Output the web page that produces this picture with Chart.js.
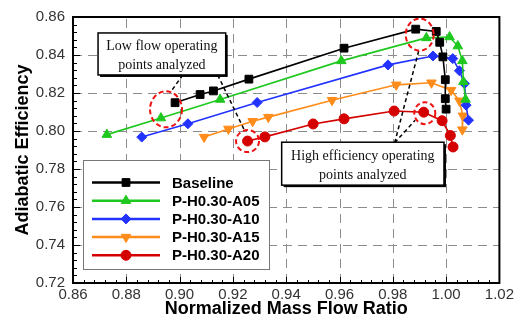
<!DOCTYPE html>
<html><head><meta charset="utf-8">
<script src="https://cdn.jsdelivr.net/npm/chart.js@4.4.0/dist/chart.umd.min.js"></script>
<style>html,body{margin:0;padding:0;background:#fff}#wrap{width:517px;height:322px}</style>
</head><body><div id="wrap"><canvas id="c" width="517" height="322"></canvas></div>
<script>
// ---- data ----
const seriesNames = ['Baseline', 'P-H0.30-A05', 'P-H0.30-A10', 'P-H0.30-A15', 'P-H0.30-A20'];
const baselineX = [0.8983, 0.9077, 0.9127, 0.9260, 0.9617, 0.9886, 0.9963, 0.9976, 0.9988, 0.9997, 0.9997, 1.0000];
const baselineY = [0.8149, 0.8192, 0.8211, 0.8273, 0.8436, 0.8536, 0.8524, 0.8467, 0.8390, 0.8270, 0.8170, 0.8115];
const a05X = [0.8727, 0.8930, 0.9152, 0.9607, 0.9926, 1.0013, 1.0044, 1.0061, 1.0065, 1.0073];
const a05Y = [0.7981, 0.8068, 0.8166, 0.8369, 0.8490, 0.8495, 0.8447, 0.8369, 0.8259, 0.8166];
const a10X = [0.8858, 0.9031, 0.9291, 0.9782, 0.9951, 1.0025, 1.0050, 1.0069, 1.0075, 1.0084];
const a10Y = [0.7968, 0.8038, 0.8150, 0.8348, 0.8395, 0.8381, 0.8317, 0.8249, 0.8136, 0.8057];
const a15X = [0.9092, 0.9183, 0.9274, 0.9333, 0.9572, 0.9813, 0.9945, 1.0019, 1.0050, 1.0063, 1.0061];
const a15Y = [0.7968, 0.8011, 0.8051, 0.8073, 0.8162, 0.8243, 0.8254, 0.8215, 0.8159, 0.8080, 0.8007];
const a20X = [0.9255, 0.9320, 0.9501, 0.9617, 0.9805, 0.9916, 0.9985, 1.0016, 1.0026];
const a20Y = [0.7947, 0.7969, 0.8037, 0.8064, 0.8105, 0.8099, 0.8054, 0.7976, 0.7916];
const xTickLabels = ['0.86','0.88','0.90','0.92','0.94','0.96','0.98','1.00','1.02'];
const yTickLabels = ['0.72','0.74','0.76','0.78','0.80','0.82','0.84','0.86'];
const xTitle = 'Normalized Mass Flow Ratio';
const yTitle = 'Adiabatic Efficiency';
const noteLow = ['Low flow operating', 'points analyzed'];
const noteHigh = ['High efficiency operating', 'points analyzed'];

// ---- styles ----
const colors = ['#000000', '#1ec81e', '#2233ff', '#ff8c1a', '#d40000'];
const styles = ['rect', 'triangle', 'rectRot', 'triangle', 'circle'];
const rotations = [0, 0, 0, 180, 0];
const radii = [5.5, 5.5, 5, 5.5, 5];

const xs = [baselineX, a05X, a10X, a15X, a20X];
const ys = [baselineY, a05Y, a10Y, a15Y, a20Y];
const datasets = seriesNames.map((n, i) => ({
  label: n,
  data: xs[i].map((v, k) => ({x: v, y: ys[i][k]})),
  borderColor: colors[i], backgroundColor: colors[i],
  pointBackgroundColor: colors[i], pointBorderColor: colors[i],
  pointStyle: styles[i], pointRotation: rotations[i], pointRadius: radii[i],
  pointBorderWidth: 1, borderWidth: 1.6, tension: 0, fill: false
}));

function marker(ctx, style, rot, r, x, y, col) {
  ctx.save(); ctx.fillStyle = col; ctx.strokeStyle = col; ctx.lineWidth = 1;
  ctx.translate(x, y); ctx.rotate(rot * Math.PI / 180); ctx.beginPath();
  if (style === 'rect') { const s = r * Math.SQRT1_2; ctx.rect(-s, -s, 2 * s, 2 * s); }
  else if (style === 'rectRot') { ctx.moveTo(0, -r); ctx.lineTo(r, 0); ctx.lineTo(0, r); ctx.lineTo(-r, 0); ctx.closePath(); }
  else if (style === 'triangle') { for (let k = 0; k < 3; k++) { const a = -Math.PI / 2 + k * 2 * Math.PI / 3; k ? ctx.lineTo(r * Math.cos(a), r * Math.sin(a)) : ctx.moveTo(r * Math.cos(a), r * Math.sin(a)); } ctx.closePath(); }
  else { ctx.arc(0, 0, r, 0, Math.PI * 2); }
  ctx.fill(); ctx.stroke(); ctx.restore();
}

const gridPlugin = {
  id: 'dashGrid',
  beforeDatasetsDraw(chart) {
    const {ctx, chartArea: a, scales: {x, y}} = chart;
    ctx.save();
    ctx.strokeStyle = '#8c8c8c'; ctx.lineWidth = 1; ctx.setLineDash([9, 6]);
    x.ticks.forEach(t => {
      const px = Math.round(x.getPixelForValue(t.value)) + 0.5;
      if (px <= a.left + 2 || px >= a.right - 2) return;
      ctx.beginPath(); ctx.moveTo(px, a.bottom); ctx.lineTo(px, a.top); ctx.stroke();
    });
    y.ticks.forEach(t => {
      const py = Math.round(y.getPixelForValue(t.value)) + 0.5;
      if (py <= a.top + 2 || py >= a.bottom - 2) return;
      ctx.beginPath(); ctx.moveTo(a.left, py); ctx.lineTo(a.right, py); ctx.stroke();
    });
    ctx.restore();
  }
};

const decor = {
  id: 'decor',
  afterDatasetsDraw(chart) {
    const {ctx, chartArea: a, scales: {x, y}} = chart;
    const X = v => x.getPixelForValue(v), Y = v => y.getPixelForValue(v);
    ctx.save();
    // inward ticks
    ctx.strokeStyle = '#000'; ctx.lineWidth = 1;
    for (let i = 0; i <= 40; i++) {
      const px = Math.round(X(0.86 + i * 0.004)) + 0.5, L = i % 5 === 0 ? 6 : 3;
      ctx.beginPath(); ctx.moveTo(px, a.bottom); ctx.lineTo(px, a.bottom - L); ctx.stroke();
    }
    for (let i = 0; i <= 35; i++) {
      const py = Math.round(Y(0.72 + i * 0.004)) + 0.5, L = i % 5 === 0 ? 7 : 4;
      ctx.beginPath(); ctx.moveTo(a.left, py); ctx.lineTo(a.left + L, py); ctx.stroke();
    }
    // frame
    ctx.lineWidth = 2; ctx.strokeRect(a.left, a.top, a.right - a.left, a.bottom - a.top);

    // dashed leader lines
    ctx.setLineDash([4, 3]); ctx.lineWidth = 1.5; ctx.strokeStyle = '#000';
    const seg = (x1, y1, x2, y2) => { ctx.beginPath(); ctx.moveTo(X(x1), Y(y1)); ctx.lineTo(X(x2), Y(y2)); ctx.stroke(); };
    seg(0.9012, 0.8295, 0.8966, 0.8205);
    seg(0.9143, 0.8295, 0.9245, 0.7999);
    seg(0.9807, 0.7938, 0.9897, 0.8421);
    seg(0.9807, 0.7938, 0.9884, 0.8057);

    // red dashed circles
    ctx.strokeStyle = '#ee1111'; ctx.lineWidth = 2; ctx.setLineDash([5, 3]);
    const ell = (cx, cy, rx, ry) => { ctx.beginPath(); ctx.ellipse(X(cx), Y(cy), rx, ry, 0, 0, Math.PI * 2); ctx.stroke(); };
    ell(0.8949, 0.8114, 16, 18);
    ell(a20X[0], a20Y[0], 11.5, 11);
    ell(0.9901, 0.8507, 14, 16);
    ell(0.9920, 0.8094, 10.5, 11);
    ctx.setLineDash([]);

    // note boxes
    const box = (x1, y1, x2, y2, lines) => {
      const l = X(x1), t = Y(y1), r = X(x2), b = Y(y2);
      ctx.fillStyle = '#000'; ctx.fillRect(l + 2, t + 2, r - l, b - t);
      ctx.fillStyle = '#fff'; ctx.fillRect(l, t, r - l, b - t);
      ctx.strokeStyle = '#000'; ctx.lineWidth = 1.5; ctx.strokeRect(l, t, r - l, b - t);
      ctx.fillStyle = '#111'; ctx.font = '14px "Liberation Serif", "Times New Roman", serif';
      ctx.textAlign = 'center'; ctx.textBaseline = 'middle';
      const cx = (l + r) / 2, h = b - t;
      ctx.fillText(lines[0], cx, t + h * 0.33);
      ctx.fillText(lines[1], cx, t + h * 0.76);
    };
    box(0.8694, 0.8516, 0.9173, 0.8295, noteLow);
    box(0.9383, 0.7941, 0.9992, 0.7715, noteHigh);

    // legend
    const lx = a.left + 10, ly = 160, lw = 186, lh = 109;
    ctx.fillStyle = '#fff'; ctx.fillRect(lx, ly, lw, lh);
    ctx.strokeStyle = '#777'; ctx.lineWidth = 1; ctx.strokeRect(lx + 0.5, ly + 0.5, lw, lh);
    ctx.font = 'bold 15px "Liberation Sans", Arial, sans-serif';
    ctx.textAlign = 'left'; ctx.textBaseline = 'middle';
    chart.data.datasets.forEach((ds, i) => {
      const ry = ly + 22.5 + i * 18.2;
      ctx.strokeStyle = ds.borderColor; ctx.lineWidth = 2.5;
      ctx.beginPath(); ctx.moveTo(lx + 9, ry); ctx.lineTo(lx + 77, ry); ctx.stroke();
      marker(ctx, ds.pointStyle, ds.pointRotation, ds.pointRadius, lx + 43, ry, ds.borderColor);
      ctx.fillStyle = '#000'; ctx.fillText(ds.label, lx + 89, ry + 1);
    });
    ctx.restore();
  }
};

new Chart(document.getElementById('c'), {
  type: 'line',
  data: {datasets},
  options: {
    responsive: false, devicePixelRatio: 1, animation: false,
    layout: {padding: {left: 0, right: 17, top: 12, bottom: 0}},
    plugins: {legend: {display: false}, tooltip: {enabled: false}},
    scales: {
      x: {
        type: 'linear', min: 0.86, max: 1.02,
        afterFit: s => { s.height = 39; },
        ticks: {stepSize: 0.02, padding: 3, color: '#333', font: {family: '"Liberation Sans", Arial, sans-serif', size: 15},
          callback: (v, i) => xTickLabels[i], maxRotation: 0, autoSkip: false},
        grid: {display: false, drawTicks: false},
        border: {display: false},
        title: {display: true, text: xTitle, color: '#000', padding: {top: 0, bottom: 2},
          font: {family: '"Liberation Sans", Arial, sans-serif', size: 18, weight: 'bold'}}
      },
      y: {
        min: 0.72, max: 0.86,
        afterFit: s => { s.width = 73; },
        ticks: {stepSize: 0.02, padding: 8, color: '#333', font: {family: '"Liberation Sans", Arial, sans-serif', size: 15},
          callback: (v, i) => yTickLabels[i], autoSkip: false},
        grid: {display: false, drawTicks: false},
        border: {display: false},
        title: {display: true, text: yTitle, color: '#000', padding: {top: 12, bottom: 0},
          font: {family: '"Liberation Sans", Arial, sans-serif', size: 18, weight: 'bold'}}
      }
    }
  },
  plugins: [gridPlugin, decor]
});
</script></body></html>
